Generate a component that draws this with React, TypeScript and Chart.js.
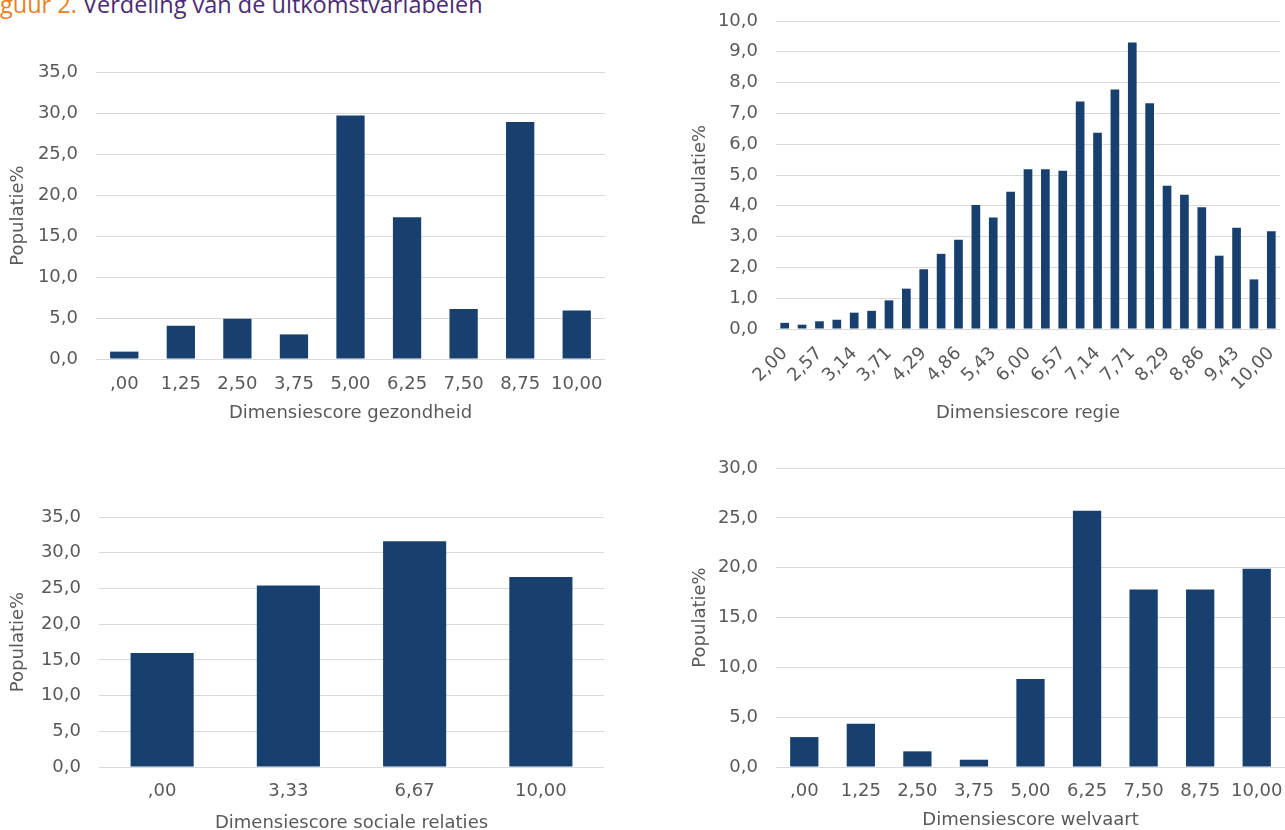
import React, { useEffect, useRef } from "react";
import { Chart, registerables } from "chart.js";

Chart.register(...registerables);

// ---------- data ----------
const gezondheidLabels = [",00", "1,25", "2,50", "3,75", "5,00", "6,25", "7,50", "8,75", "10,00"];
const gezondheidValues = [0.9, 4.05, 4.9, 3.0, 29.7, 17.3, 6.1, 28.9, 5.9];

const regieLabels = [
  "2,00", "2,29", "2,57", "2,86", "3,14", "3,43", "3,71", "4,00", "4,29", "4,57",
  "4,86", "5,14", "5,43", "5,71", "6,00", "6,29", "6,57", "6,86", "7,14", "7,43",
  "7,71", "8,00", "8,29", "8,57", "8,86", "9,14", "9,43", "9,71", "10,00",
];
const regieValues = [
  0.2, 0.14, 0.25, 0.3, 0.53, 0.59, 0.93, 1.31, 1.94, 2.44,
  2.9, 4.03, 3.62, 4.46, 5.19, 5.19, 5.14, 7.39, 6.37, 7.78,
  9.3, 7.33, 4.65, 4.36, 3.95, 2.38, 3.29, 1.61, 3.17,
];

const socialeLabels = [",00", "3,33", "6,67", "10,00"];
const socialeValues = [15.96, 25.4, 31.6, 26.6];

const welvaartLabels = [",00", "1,25", "2,50", "3,75", "5,00", "6,25", "7,50", "8,75", "10,00"];
const welvaartValues = [3.0, 4.33, 1.57, 0.73, 8.83, 25.7, 17.8, 17.8, 19.9];

const yTitle = "Populatie%";
const titleNumber = "guur 2.";
const titleText = "Verdeling van de uitkomstvariabelen";

// ---------- styles ----------
const BAR_COLOR = "#18406F";
const TEXT_COLOR = "#595959";
const GRID_COLOR = "#D9D9D9";
const FONT = { family: "'DejaVu Sans', Verdana, sans-serif", size: 18 };

type Props = {
  left: number;
  top: number;
  width: number;
  height: number;
  labels: string[];
  values: number[];
  yMax: number;
  yStep: number;
  pad: { left: number; right: number; top: number; bottom: number };
  yw: number;
  xh: number;
  xTickPad: number;
  xTitle: string;
  rotate?: boolean;
};

function BarChart(p: Props) {
  const ref = useRef<HTMLCanvasElement>(null);
  useEffect(() => {
    if (!ref.current) return;
    const chart = new Chart(ref.current, {
      type: "bar",
      data: {
        labels: p.labels,
        datasets: [
          {
            data: p.values,
            backgroundColor: BAR_COLOR,
            borderWidth: 0,
            barPercentage: 0.5,
            categoryPercentage: 1,
          },
        ],
      },
      options: {
        animation: false,
        responsive: false,
        devicePixelRatio: 1,
        layout: { padding: p.pad },
        plugins: { legend: { display: false }, tooltip: { enabled: false } },
        scales: {
          x: {
            type: "category",
            grid: { display: false, drawTicks: false },
            border: { display: false },
            ticks: {
              color: TEXT_COLOR,
              font: FONT,
              autoSkip: false,
              maxRotation: p.rotate ? 45 : 0,
              minRotation: p.rotate ? 45 : 0,
              padding: p.xTickPad,
              callback: function (this: any, val: any, idx: number) {
                if (p.rotate && idx % 2 === 1) return "";
                return this.getLabelForValue(val);
              },
            },
            title: { display: true, text: p.xTitle, color: TEXT_COLOR, font: FONT, padding: 0 },
            afterFit: (s: any) => {
              s.height = p.xh;
              s.paddingLeft = 0;
              s.paddingRight = 0;
            },
          },
          y: {
            min: 0,
            max: p.yMax,
            grid: { color: GRID_COLOR, lineWidth: 1, drawTicks: false },
            border: { display: false },
            ticks: {
              stepSize: p.yStep,
              color: TEXT_COLOR,
              font: FONT,
              padding: 18,
              callback: (v: any) => Number(v).toFixed(1).replace(".", ","),
            },
            title: { display: true, text: yTitle, color: TEXT_COLOR, font: FONT, padding: 0 },
            afterFit: (s: any) => {
              s.width = p.yw;
              s.paddingTop = 0;
              s.paddingBottom = 0;
            },
          },
        },
      },
    } as any);
    return () => chart.destroy();
  }, []);
  return (
    <canvas
      ref={ref}
      width={p.width}
      height={p.height}
      style={{ position: "absolute", left: p.left, top: p.top, width: p.width, height: p.height }}
    />
  );
}

export default function App() {
  return (
    <div
      style={{
        position: "absolute",
        left: 0,
        top: 0,
        width: 1285,
        height: 830,
        overflow: "hidden",
        background: "#fff",
      }}
    >
      <div
        style={{
          position: "absolute",
          left: 0,
          top: -7,
          fontFamily: "'Open Sans', sans-serif",
          fontSize: 23.5,
          lineHeight: "23.5px",
          whiteSpace: "nowrap",
        }}
      >
        <span style={{ color: "#E9811F" }}>{titleNumber}</span>{" "}
        <span style={{ color: "#4B2B73" }}>{titleText}</span>
      </div>

      <BarChart
        left={0}
        top={40}
        width={620}
        height={390}
        labels={gezondheidLabels}
        values={gezondheidValues}
        yMax={35}
        yStep={5}
        pad={{ left: 8, right: 15, top: 32, bottom: 6 }}
        yw={88}
        xh={65}
        xTickPad={15}
        xTitle="Dimensiescore gezondheid"
      />

      <BarChart
        left={680}
        top={0}
        width={605}
        height={430}
        labels={regieLabels}
        values={regieValues}
        yMax={10}
        yStep={1}
        pad={{ left: 10, right: 5, top: 21, bottom: 6 }}
        yw={86}
        xh={95}
        xTickPad={14}
        xTitle="Dimensiescore regie"
        rotate
      />

      <BarChart
        left={0}
        top={470}
        width={620}
        height={370}
        labels={socialeLabels}
        values={socialeValues}
        yMax={35}
        yStep={5}
        pad={{ left: 8, right: 16, top: 47, bottom: 6 }}
        yw={91}
        xh={67}
        xTickPad={14}
        xTitle="Dimensiescore sociale relaties"
      />

      <BarChart
        left={680}
        top={440}
        width={605}
        height={400}
        labels={welvaartLabels}
        values={welvaartValues}
        yMax={30}
        yStep={5}
        pad={{ left: 10, right: 0, top: 28, bottom: 9 }}
        yw={86}
        xh={64}
        xTickPad={14}
        xTitle="Dimensiescore welvaart"
      />
    </div>
  );
}
